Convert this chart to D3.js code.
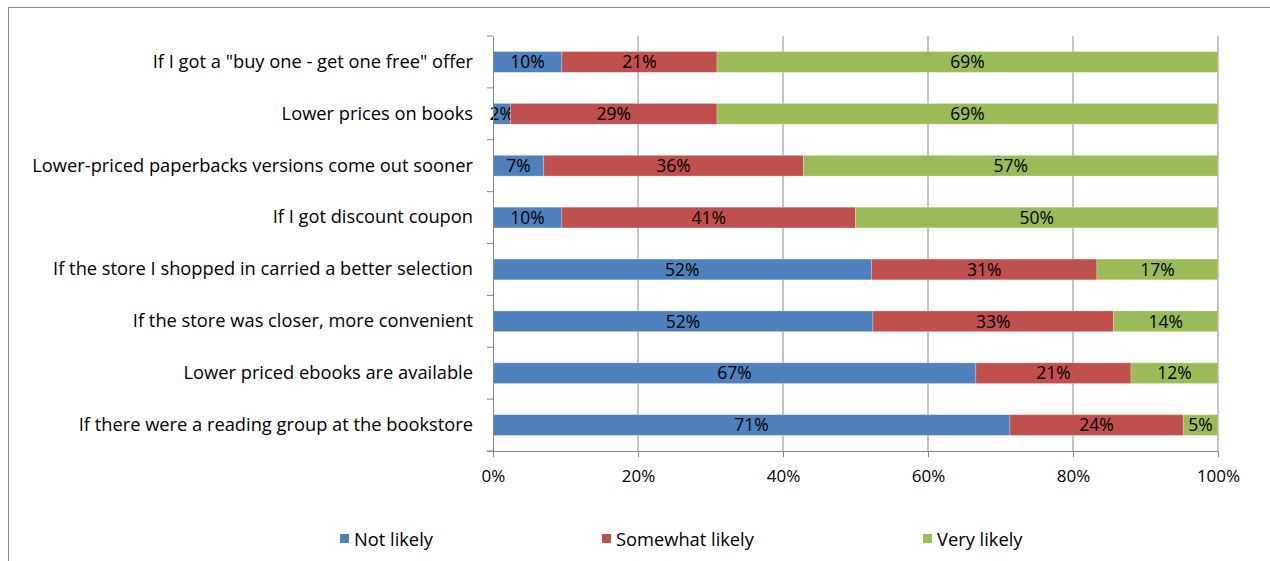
<!DOCTYPE html>
<html><head><meta charset="utf-8">
<script src="https://cdn.jsdelivr.net/npm/d3@7"></script>
<style>body{margin:0;background:#fff;} text{font-family:"Open Sans", sans-serif;}</style>
</head><body>
<svg id="c" width="1270" height="561"></svg>
<script>
const categories = [
  'If I got a "buy one - get one free" offer',
  'Lower prices on books',
  'Lower-priced paperbacks versions come out sooner',
  'If I got discount coupon',
  'If the store I shopped in carried a better selection',
  'If the store was closer, more convenient',
  'Lower priced ebooks are available',
  'If there were a reading group at the bookstore'
];
const seriesNames = ["Not likely", "Somewhat likely", "Very likely"];
const notLikely      = [9.5, 2.4, 7.0, 9.5, 52.2, 52.4, 66.6, 71.3];
const somewhatLikely = [21.4, 28.5, 35.8, 40.5, 31.1, 33.2, 21.4, 23.9];
const veryLikely     = [69.1, 69.1, 57.2, 50.0, 16.7, 14.4, 12.0, 4.8];
const labelNot      = ["10%","2%","7%","10%","52%","52%","67%","71%"];
const labelSome     = ["21%","29%","36%","41%","31%","33%","21%","24%"];
const labelVery     = ["69%","69%","57%","50%","17%","14%","12%","5%"];
const xTicks = [0, 0.2, 0.4, 0.6, 0.8, 1.0];
const colors = ["#4F81BD", "#C0504D", "#9BBB59"];

const FONT = '"Open Sans", sans-serif';
const FS = 18.3;
const svg = d3.select("#c");
// chart border
svg.append("rect").attr("x", 8.5).attr("y", 7.5).attr("width", 1300).attr("height", 600)
  .attr("fill", "none").attr("stroke", "#888").attr("stroke-width", 1);

const L = 493, R = 1218, T = 36, B = 451;
const x = d3.scaleLinear().domain([0, 1]).range([L, R]);
const y = d3.scaleBand().domain(categories).range([T, B]).padding(0);
const barH = y.bandwidth() * 0.4;

// gridlines
svg.append("g").selectAll("line").data(xTicks.slice(1)).join("line")
  .attr("x1", d => x(d)).attr("x2", d => x(d)).attr("y1", T).attr("y2", B)
  .attr("stroke", "#878787").attr("stroke-width", 1);

const table = categories.map((c, i) => ({cat: c, a: notLikely[i], b: somewhatLikely[i], c: veryLikely[i],
  la: labelNot[i], lb: labelSome[i], lc: labelVery[i]}));
const norm = table.map(r => { const s = r.a + r.b + r.c; return {...r, a: r.a / s, b: r.b / s, c: r.c / s}; });
const stack = d3.stack().keys(["a", "b", "c"]);
const layers = stack(norm);
const lblKeys = ["la", "lb", "lc"];

layers.forEach((layer, li) => {
  const g = svg.append("g");
  g.selectAll("rect").data(layer).join("rect")
    .attr("x", d => x(d[0])).attr("width", d => x(d[1]) - x(d[0]))
    .attr("y", d => y(d.data.cat) + (y.bandwidth() - barH) / 2).attr("height", barH)
    .attr("fill", colors[li]).attr("stroke", "rgba(255,255,255,0.35)").attr("stroke-width", 0.7);
  g.selectAll("text").data(layer).join("text")
    .attr("x", d => (x(d[0]) + x(d[1])) / 2).attr("y", d => y(d.data.cat) + y.bandwidth() / 2)
    .attr("dy", "0.36em").attr("text-anchor", "middle").attr("font-size", FS - 0.8).attr("fill", "#000")
    .style("font-family", FONT)
    .text(d => d.data[lblKeys[li]]);
});

// left axis
const yAxis = d3.axisLeft(y).tickSize(0).tickPadding(20);
const ga = svg.append("g").attr("transform", `translate(${L},0)`).call(yAxis);
ga.select(".domain").attr("stroke", "#878787");
ga.selectAll("text").attr("font-size", FS).attr("fill", "#000").style("font-family", FONT);
// category separator ticks
const sepY = d3.range(categories.length + 1).map(i => T + i * y.step());
svg.append("g").selectAll("line").data(sepY).join("line")
  .attr("x1", L - 6).attr("x2", L).attr("y1", d => d).attr("y2", d => d)
  .attr("stroke", "#878787");

// bottom axis
const xAxis = d3.axisBottom(x).tickValues(xTicks).tickFormat(d3.format(".0%")).tickSize(6).tickPadding(13);
const gb = svg.append("g").attr("transform", `translate(0,${B})`).call(xAxis);
gb.select(".domain").attr("stroke", "#878787").attr("d", `M${L - 6},0.5H${R}`);
gb.selectAll(".tick line").attr("stroke", "#878787");
gb.selectAll("text").attr("font-size", FS - 1.3).attr("fill", "#000").style("font-family", FONT);

// legend
const legX = [340, 602, 923];
const lg = svg.append("g").selectAll("g").data(seriesNames).join("g")
  .attr("transform", (d, i) => `translate(${legX[i]},539)`);
lg.append("rect").attr("x", 0).attr("y", -5).attr("width", 9).attr("height", 9).attr("fill", (d, i) => colors[i]);
lg.append("text").attr("x", 14).attr("dy", "0.36em").attr("font-size", FS).attr("fill", "#000")
  .style("font-family", FONT).text(d => d);
</script>
</body></html>
